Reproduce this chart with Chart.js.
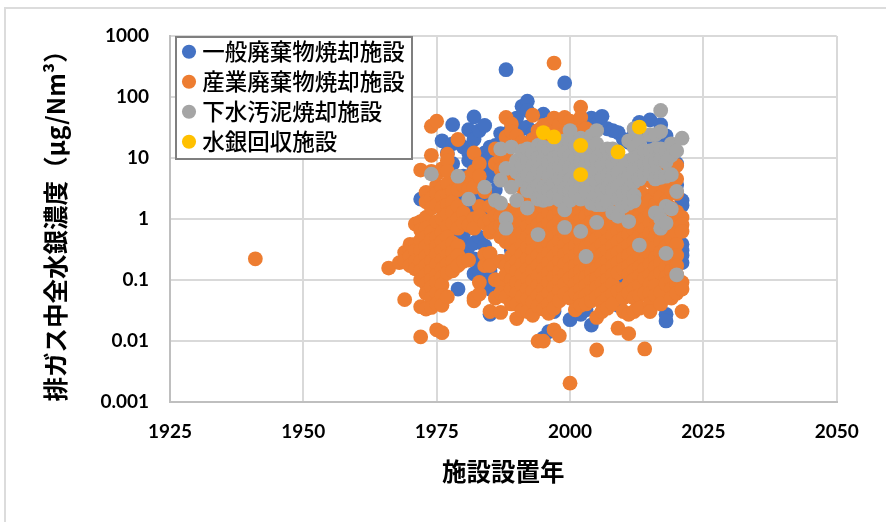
<!DOCTYPE html>
<html><head><meta charset="utf-8">
<style>html,body{margin:0;padding:0;background:#fff}canvas{display:block}</style>
<script src="https://cdn.jsdelivr.net/npm/chart.js@4/dist/chart.umd.min.js"></script>
</head><body><canvas id="c" width="886" height="522"></canvas>
<script>
const seriesNames=['一般廃棄物焼却施設','産業廃棄物焼却施設','下水汚泥焼却施設','水銀回収施設'];
const yTickValues=[0.001,0.01,0.1,1,10,100,1000];
const xTickValues=[1925,1950,1975,2000,2025,2050];
const xTitle='施設設置年';
const yTitle='排ガス中全水銀濃度（µg/Nm³）';
// each row: year, then the values read for that year
const blueRows=[
[1972,2.1],[1975,.075,1.9],[1976,19,.6],[1977,2,12],[1978,35,17,8],[1979,19,1.5,.6,.4,.07],[1980,15,5,2,1.6,.55,.37,.3],
[1981,29,12,9,4,1.8,1.5,.35],[1982,47,20,6.5,1.6,.4,.22,.125],[1983,28,3,2.2,1.7,.5,.16,.12],[1984,34,12,7,2.2,.36,.14,.12],[1985,15,10,5,1.5,.14,.1,.07,.027],
[1986,16,6,3,.07],[1987,25,10,.2],[1988,280,20],[1989,30,.3],[1990,45,18],[1991,70,30,.07],[1992,85,32,60],[1993,25,.06],
[1994,28],[1995,52,.011],[1996,14,.014],[1997,.03],[1998,30],[1999,170,38],[2000,38,.07,.022],[2001,.045],[2002,.027],
[2003,40,.032],[2004,45,.018],[2005,36],[2006,48],[2007,30],[2008,28,.1],[2009,26,.09,.038],[2010,20,.125],[2011,18],
[2012,24],[2013,38,20],[2014,.08],[2015,42,22],[2016,20],[2017,35,.09],[2018,23,.066,.027,.021],[2019,9,.12],
[2020,8,3.6],[2021,2,1.65,.38,.3,.25,.19]
];
const orangeRows=[
[1941,.22],[1966,.155],[1968,.19],[1969,.28,.2,.047],[1970,.38,.3,.24,.17],[1971,.82,.38,.3,.2,.15],
[1972,6.3,.9,.65,.45,.3,.2,.14,.1,.036,.0115],
[1973,2.7,1.9,1.05,.7,.5,.35,.24,.17,.12,.085,.06,.033],
[1974,33,11,6,2.2,1.5,.6,.45,.3,.2,.14,.1,.075,.05,.035],
[1975,40,5.5,3.5,2.6,1.7,.9,.5,.35,.26,.18,.12,.09,.06,.04,.015],
[1976,6.6,3.2,2.3,1.5,1,.6,.42,.3,.21,.15,.11,.082,.055,.038,.0135],
[1977,11.5,9,6,3.8,2.4,1.7,1.2,.75,.5,.35,.25,.18,.13,.052],
[1978,2.8,1.9,1.3,.85,.4,.28,.2,.14],
[1979,20,4.6,3,1.6,1,.7,.36,.25,.17],
[1980,3.5,1.25,.85,.2],
[1981,4.8,3.1,.78,.21],
[1982,12,6,3.3,1,.7,.05,.045],
[1983,8,5,1.6,1.1,.09,.058],
[1984,2.8,.85,.26,.17],
[1985,1.6,.95,.6,.27,.17,.03],
[1986,14,8,1.1,.7,.1,.05],
[1987,13,9.5,6.5,1.1,.75,.5,.2,.09,.06,.029],
[1988,46,22,11,1.4,.95,.66,.42,.17,.12,.052],
[1989,36,27,5,1.3,.8,.55,.38,.24,.16,.1,.07,.04],
[1990,23,3.6,1.6,1.05,.7,.47,.31,.2,.14,.09,.06,.04,.023],
[1991,18,4.5,2.2,1.2,.85,.58,.37,.26,.18,.12,.08,.052,.031],
[1992,13,3.8,1.9,1.1,.75,.5,.34,.22,.15,.105,.07,.048,.03],
[1993,50,20,6,2.4,1.4,.95,.65,.44,.3,.21,.14,.095,.065,.043,.026],
[1994,28,15,3.3,1.7,1.15,.8,.53,.36,.25,.17,.115,.08,.055,.037,.0098],
[1995,34,18,5,2.5,1.5,1,.7,.47,.32,.22,.15,.105,.07,.05,.033,.0098],
[1996,36,22,4,2,1.25,.85,.58,.4,.27,.19,.13,.09,.06,.04,.028],
[1997,360,45,26,3,1.6,1.1,.75,.5,.35,.24,.16,.11,.075,.05,.034,.015],
[1998,35,2.2,1.35,.92,.62,.43,.29,.2,.135,.095,.065,.045,.012],
[1999,46,25,3.4,1.8,1.2,.8,.55,.37,.26,.18,.12,.085,.058],
[2000,40,20,2.4,1.5,1,.68,.46,.31,.21,.15,.105,.05,.002],
[2001,30,3,1.7,1.15,.78,.52,.36,.25,.17,.12,.085,.06,.032],
[2002,68,46,22,2.1,1.4,.95,.64,.44,.3,.2,.14,.1,.07,.05,.038],
[2003,30,2.6,1.6,1.1,.74,.5,.34,.23,.16,.11,.08,.055,.04],
[2004,20,2,1.3,.88,.6,.4,.27,.19,.13,.095,.065,.045],
[2005,14,2.4,1.5,1,.7,.47,.32,.22,.15,.105,.075,.052,.024,.007],
[2006,1.8,1.2,.82,.56,.38,.26,.18,.125,.088,.06,.042,.03],
[2007,2.2,1.4,.96,.65,.44,.3,.2,.14,.1,.07,.05,.034],
[2008,1.7,1.15,.78,.53,.36,.25,.17,.12,.085,.058,.04],
[2009,2,1.3,.9,.62,.42,.28,.19,.13,.065,.016],
[2010,2.6,1.5,1,.7,.48,.32,.22,.15,.07,.05,.03],
[2011,1.9,1.2,.8,.55,.37,.25,.17,.12,.085,.06,.027,.013],
[2012,4,2.2,1.4,.95,.65,.42,.29,.2,.14,.1,.07,.05,.03],
[2013,3,1.7,1.1,.76,.52,.35,.24,.16,.115,.08,.055,.034],
[2014,5.5,2.4,1.5,1,.68,.46,.31,.21,.15,.105,.06,.0073],
[2015,4.2,2,1.2,.85,.58,.38,.26,.18,.12,.085,.06,.04,.03],
[2016,6,3,1.7,1.1,.72,.5,.34,.23,.16,.11,.08,.055],
[2017,5,2.3,1.3,.9,.62,.42,.28,.19,.13,.062,.04],
[2018,7,3.4,1.9,1.15,.8,.52,.35,.24,.16,.11,.085],
[2019,6,2.8,1.5,1,.68,.46,.3,.2,.14,.095,.07,.05],
[2020,7.5,4.5,2.6,1.3,.85,.58,.38,.25,.17,.12,.085,.06],
[2021,1.05,.8,.62,.09,.07,.03]
];
const grayRows=[
[1974,5.4],[1979,5],[1981,2.1],[1984,3.3],[1986,2],[1987,14,4.3,1.8],[1988,6.7,1,.7],[1989,15,3.3],[1990,9,5.8,2],
[1991,13,7.5,4.3],[1992,14,9,5.2,2.9,1.5],[1993,12,7.5,4.6,2.8],[1994,16,10,6.2,3.5,2.1,.55],[1995,15,9.5,5.8,3.2,2],
[1996,14,8.6,5,3,2.1],[1997,16,10,6.5,3.8,2.4],[1998,17,11,7,4.5,2.9,2.05],[1999,19,12,7.5,4.8,3.1,1.4,.72],
[2000,28,18,11,7,4.4,2.8,2],[2001,16,10,6.5,4,2.6],[2002,21,13,8.5,5.5,3.4,2.1,.62],[2003,20,12,7.5,4.5,2.8,.24],
[2004,23,14,9,5.5,3.4,1.8],[2005,28,17,10,6.5,4,2.5,1.7,.87],[2006,13,7.5,4.6,2.9,1.7],[2007,14,8.5,5.2,3.2,1.9],
[2008,14,8,5,3,1.25],[2009,9,5.5,3.4,2.1,1.1],[2010,7,4.3,2.6,1.6],[2011,19,9,5,3,1.8,.9],[2012,30,15,10,6.5,4,2.4,1.95],
[2013,19,18,11,7,4.5,.37],[2014,13,8,5.5],[2015,24,13,8.5,5.5],[2016,24,14,9,5.8,4.5,1.25],[2017,60,27,14,9.5,4.8,.98,.7],
[2018,13,8.5,5,1.6,.85,.27],[2019,17,11,5.3,1.45],[2020,13,2.8,.12],[2021,21]
];
const yellowYears=[1995,1997,2002,2002,2009,2013];
const yellowValues=[26,22,16,5.3,12.5,32];

const toPoints=rows=>rows.flatMap(([year,...vals])=>vals.map(v=>({x:year,y:v})));
const cjk='"Noto Sans CJK JP","Noto Sans",sans-serif';
const tickFont={family:'Lato,"Noto Sans",sans-serif',size:19,weight:'bold'};

const framePlugin={id:'frame',
 afterLayout(chart){const l=chart.legend;
  l.left=179.5;l.top=33;l.right=411;l.bottom=400;l.width=231.5;l.height=367;},
 beforeDraw(chart){const c=chart.ctx;c.save();c.strokeStyle='#dcdcdc';c.lineWidth=2;c.beginPath();
  c.moveTo(5,522);c.lineTo(5,8);c.lineTo(886,8);c.stroke();c.restore();},
 beforeDatasetsDraw(chart){const c=chart.ctx;
  c.save();c.fillStyle='#fff';c.fillRect(176,37,236,122);c.strokeStyle='#7f7f7f';c.lineWidth=2;c.strokeRect(176,37,236,122);c.restore();
  chart.legend.draw();}
};
new Chart(document.getElementById('c'),{
 type:'scatter',
 data:{datasets:[
  {label:seriesNames[0],data:toPoints(blueRows),backgroundColor:'#4472C4',order:4},
  {label:seriesNames[1],data:toPoints(orangeRows),backgroundColor:'#ED7D31',order:3},
  {label:seriesNames[2],data:toPoints(grayRows),backgroundColor:'#A5A5A5',order:2},
  {label:seriesNames[3],data:yellowYears.map((x,i)=>({x,y:yellowValues[i]})),backgroundColor:'#FFC000',order:1}
 ]},
 options:{
  responsive:false,animation:false,
  layout:{padding:{left:0,top:36,right:49.3,bottom:0}},
  elements:{point:{radius:7.4,borderWidth:0,hoverRadius:7.4}},
  plugins:{tooltip:{enabled:false},title:{display:false},
   legend:{position:'chartArea',align:'start',
    labels:{usePointStyle:true,pointStyle:'circle',boxHeight:10,boxWidth:4,padding:7.5,color:'#000',
     font:{family:cjk,size:22.5,weight:'500'},
     sort:(a,b)=>a.datasetIndex-b.datasetIndex}}},
  scales:{
   x:{type:'linear',min:1925,max:2050,
    afterBuildTicks:s=>{s.ticks=xTickValues.map(v=>({value:v}));},
    afterFit:s=>{s.height=120.5;},
    grid:{color:'#d9d9d9',lineWidth:2,drawTicks:false},
    border:{color:'#bfbfbf',width:2},
    ticks:{color:'#000',font:tickFont,padding:19,maxRotation:0,callback:v=>String(v)},
    title:{display:true,text:xTitle,color:'#000',font:{family:cjk,size:24.5,weight:'bold'},padding:{top:12,bottom:36}}},
   y:{type:'logarithmic',min:0.001,max:1000,
    afterBuildTicks:s=>{s.ticks=yTickValues.map(v=>({value:v}));},
    afterFit:s=>{s.width=170;},
    grid:{color:'#d9d9d9',lineWidth:2,drawTicks:false},
    border:{color:'#bfbfbf',width:2},
    ticks:{color:'#000',font:tickFont,padding:21,callback:v=>String(v)},
    title:{display:true,text:yTitle,color:'#000',align:'start',font:{family:cjk,size:24.5,weight:'bold'},padding:{top:41,bottom:0}}}
  }
 },
 plugins:[framePlugin]
});
</script></body></html>
